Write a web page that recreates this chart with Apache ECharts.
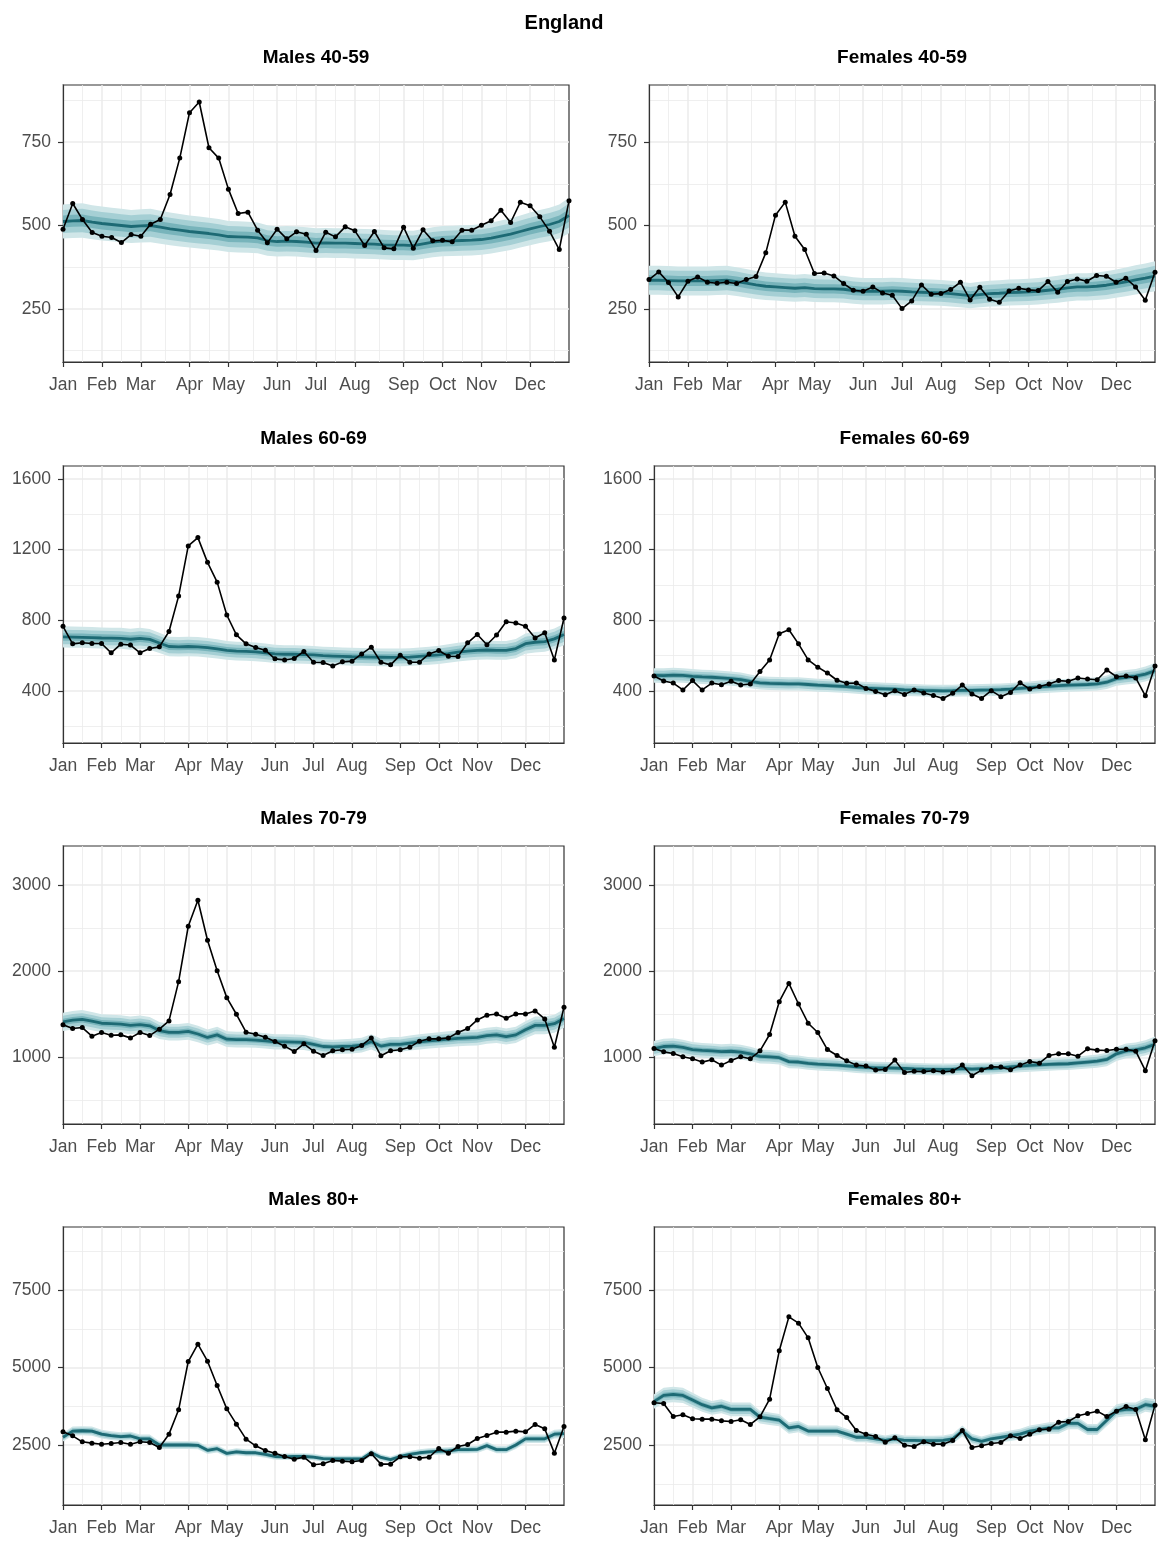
<!DOCTYPE html>
<html><head><meta charset="utf-8">
<script src="https://cdn.jsdelivr.net/npm/echarts@6/dist/echarts.min.js"></script>
<style>html,body{margin:0;padding:0;background:#fff}#c{width:1161px;height:1541px}</style>
</head><body><div id="c"></div>
<script>
const weeks = [1,2,3,4,5,6,7,8,9,10,11,12,13,14,15,16,17,18,19,20,21,22,23,24,25,26,27,28,29,30,31,32,33,34,35,36,37,38,39,40,41,42,43,44,45,46,47,48,49,50,51,52,53];
const monthTickWeeks = [1,5,9,14,18,23,27,31,36,40,44,49];
const monthLabels = ['Jan','Feb','Mar','Apr','May','Jun','Jul','Aug','Sep','Oct','Nov','Dec'];
const minorTickWeeks = [3,7,11.5,16,20.5,25,29,33.5,38,42,46.5,51.5];

const panelTitles = ['Males 40-59','Females 40-59','Males 60-69','Females 60-69','Males 70-79','Females 70-79','Males 80+','Females 80+'];

const obs_M4059 = [489,566,518,479,468,464,449,473,468,504,518,593,702,838,870,733,702,609,536,540,486,448,489,460,481,474,425,480,466,496,484,440,482,433,430,495,432,487,454,456,451,486,486,501,514,546,509,570,559,526,483,428,574];
const med_M4059 = [512,514,515,510,506,503,500,497,499,500,495,490,486,482,479,476,472,467,466,465,463,455,452,453,452,450,447,448,447,447,446,445,444,442,441,441,440,445,450,453,454,455,456,458,462,468,474,482,490,497,503,512,530];
const obs_F4059 = [338,361,329,286,333,346,330,327,330,326,338,347,418,531,570,468,428,356,358,349,326,306,303,316,298,291,251,274,322,294,296,308,330,277,315,279,270,304,312,307,305,332,300,332,340,333,350,348,330,342,316,276,360];
const med_F4059 = [336,336,335,334,334,334,334,335,336,332,327,322,318,316,314,312,314,311,310,310,309,305,303,303,303,304,303,301,300,299,298,296,293,290,293,296,297,299,300,301,303,306,309,313,316,316,318,321,326,331,337,342,348];
const obs_M6069 = [766,667,673,669,669,616,665,660,616,641,650,737,937,1221,1268,1128,1016,830,718,667,646,631,582,576,584,624,563,561,542,565,569,610,648,563,548,603,563,563,610,629,597,595,673,720,662,717,792,785,766,700,730,576,813];
const med_M6069 = [706,705,704,702,700,699,698,693,698,692,672,652,650,652,650,645,638,630,626,624,622,616,610,608,608,606,604,600,598,596,594,593,592,591,590,590,592,596,600,605,612,620,626,630,632,630,630,640,668,676,680,695,720];
const obs_F6069 = [485,457,445,406,459,406,445,436,455,434,440,510,576,724,747,667,576,535,502,461,444,445,415,398,379,402,381,406,389,375,358,387,434,383,358,402,368,392,447,411,426,440,459,455,474,468,464,519,481,485,474,373,542];
const med_F6069 = [488,487,490,488,483,480,478,474,470,465,455,446,443,442,440,441,437,433,431,428,425,420,416,414,412,410,407,405,403,402,401,402,404,404,405,406,408,411,415,419,423,427,430,433,435,437,440,450,470,478,484,496,515];
const obs_M7079 = [1376,1333,1345,1245,1287,1256,1260,1225,1287,1252,1326,1422,1877,2520,2821,2358,2004,1692,1499,1291,1268,1233,1183,1129,1067,1156,1071,1021,1075,1087,1094,1137,1225,1017,1075,1087,1117,1187,1214,1214,1225,1287,1333,1433,1487,1503,1453,1503,1503,1538,1445,1117,1580];
const med_M7079 = [1410,1430,1440,1420,1395,1390,1385,1370,1380,1365,1310,1290,1290,1300,1270,1230,1260,1210,1205,1205,1200,1190,1180,1178,1175,1172,1150,1125,1120,1125,1130,1140,1180,1130,1150,1150,1165,1180,1190,1200,1210,1220,1225,1230,1250,1260,1240,1260,1320,1370,1370,1390,1450];
const obs_F7079 = [1102,1063,1044,1006,983,944,971,909,963,1006,983,1075,1264,1645,1857,1618,1395,1287,1090,1021,959,909,898,851,859,967,823,838,834,844,830,840,909,786,851,890,886,855,909,952,932,1021,1040,1040,1013,1098,1083,1079,1094,1094,1071,844,1191];
const med_F7079 = [1100,1125,1130,1115,1090,1080,1075,1065,1070,1060,1040,1010,1005,995,950,945,930,920,915,910,900,890,882,878,876,874,870,865,862,860,858,860,870,862,868,870,878,888,898,905,912,918,922,925,935,945,955,975,1040,1075,1085,1110,1150];
const obs_M80 = [2925,2796,2603,2560,2527,2549,2581,2527,2603,2581,2420,2850,3635,5193,5752,5204,4420,3667,3172,2689,2474,2323,2237,2130,2044,2108,1861,1893,2001,1979,1958,2001,2216,1883,1883,2119,2119,2076,2108,2388,2237,2452,2517,2710,2807,2915,2915,2947,2925,3162,3022,2237,3097];
const med_M80 = [2750,2950,2960,2950,2850,2800,2770,2790,2700,2700,2500,2500,2500,2500,2490,2330,2380,2230,2280,2250,2250,2200,2130,2120,2130,2130,2110,2060,2050,2050,2050,2050,2250,2100,2030,2130,2200,2250,2280,2300,2310,2350,2350,2360,2480,2350,2350,2500,2700,2700,2700,2850,2870];
const obs_F80 = [3861,3839,3420,3474,3345,3334,3334,3280,3258,3312,3162,3409,3979,5538,6634,6430,5957,5000,4323,3635,3388,2968,2850,2775,2592,2732,2495,2452,2603,2527,2527,2646,2968,2420,2474,2549,2581,2796,2710,2850,2990,3012,3237,3258,3441,3517,3592,3420,3592,3743,3646,2668,3786];
const med_F80 = [3900,4100,4130,4100,3950,3800,3700,3750,3650,3650,3650,3400,3350,3300,3050,3100,2950,2950,2950,2950,2850,2750,2750,2700,2650,2700,2650,2650,2640,2640,2650,2700,2950,2700,2620,2700,2750,2800,2850,2950,3000,3050,3050,3200,3200,3000,3000,3300,3600,3650,3650,3800,3750];

// relative half-widths of the three credible bands (outer, middle, inner)
const bandRel_M4059 = [0.10, 0.068, 0.035];
const bandRel_F4059 = [0.13, 0.09, 0.045];
const bandRel_M6069 = [0.085, 0.058, 0.03];
const bandRel_F6069 = [0.085, 0.058, 0.03];
const bandRel_M7079 = [0.075, 0.05, 0.026];
const bandRel_F7079 = [0.08, 0.055, 0.028];
const bandRel_M80 = [0.05, 0.034, 0.018];
const bandRel_F80 = [0.06, 0.04, 0.021];

const yTicksRow = [[250,500,750],[400,800,1200,1600],[1000,2000,3000],[2500,5000,7500]];
const yMinorRow = [[125,375,625,875],[200,600,1000,1400],[500,1500,2500],[1250,3750,6250,8750]];
const yRangeRow = [[91,921],[106,1673],[226,3451],[565,9532]];

const observed = [obs_M4059,obs_F4059,obs_M6069,obs_F6069,obs_M7079,obs_F7079,obs_M80,obs_F80];
const medians = [med_M4059,med_F4059,med_M6069,med_F6069,med_M7079,med_F7079,med_M80,med_F80];
const bandRels = [bandRel_M4059,bandRel_F4059,bandRel_M6069,bandRel_F6069,bandRel_M7079,bandRel_F7079,bandRel_M80,bandRel_F80];

// layout
const rowTop = [85,466,846,1227];
const rowH = [277,277,278,278];
const colLeft = [[63,649],[63,654],[63,654],[63,654]];
const colW = [[506,506],[501,501],[501,501],[501,501]];

const bandColors = ['#d0e6e8','#a5cfd4','#78b4bb'];
const medColor = '#1d6a74';
const txtColor = '#4d4d4d';
const frameColor = '#333333';
const gridColor = '#ebebeb';
const FONT = 'Liberation Sans, Arial, Helvetica, sans-serif';

const grids = [], xAxes = [], yAxes = [], series = [], graphics = [];

graphics.push({type:'text', x:564, y:23, style:{text:'England', font:'bold 20px ' + FONT, fill:'#000', textAlign:'center', textVerticalAlign:'middle'}});

function makeBandRenderer(color) {
  return function(params, api) {
    if (params.dataIndex !== 0) return null;
    const n = weeks.length;
    const upperPts = [], lowerPts = [];
    for (let i = 0; i < n; i++) {
      upperPts.push(api.coord([api.value(0, i), api.value(2, i)]));
      lowerPts.push(api.coord([api.value(0, i), api.value(1, i)]));
    }
    const pts = upperPts.concat(lowerPts.reverse());
    return {type:'polygon', shape:{points:pts}, style:{fill:color, stroke:null}, silent:true};
  };
}

for (let p = 0; p < 8; p++) {
  const r = Math.floor(p / 2), c = p % 2;
  const left = colLeft[r][c], width = colW[r][c], top = rowTop[r], height = rowH[r];
  grids.push({left:left, top:top, width:width, height:height, show:true, borderColor:frameColor, borderWidth:1.2, backgroundColor:'#fff', containLabel:false});
  graphics.push({type:'text', x:left + width/2, y:top - 27, style:{text:panelTitles[p], font:'bold 19px ' + FONT, fill:'#000', textAlign:'center', textVerticalAlign:'middle'}});

  const xi = xAxes.length, yi = yAxes.length;
  xAxes.push({type:'value', gridIndex:p, min:1, max:53, position:'bottom',
    axisLine:{show:true, onZero:false, lineStyle:{color:frameColor, width:1.2}},
    axisTick:{show:true, length:5, customValues:monthTickWeeks, lineStyle:{color:frameColor, width:1.2}},
    axisLabel:{show:true, customValues:monthTickWeeks, margin:14, color:txtColor, fontSize:17.5, fontFamily:FONT,
      formatter:function(v){ const k = monthTickWeeks.indexOf(v); return k >= 0 ? monthLabels[k] : ''; }},
    splitLine:{show:true, lineStyle:{color:gridColor, width:1.5}}
  });
  xAxes.push({type:'value', gridIndex:p, min:1, max:53, position:'bottom',
    axisLine:{show:false}, axisTick:{show:false, customValues:minorTickWeeks}, axisLabel:{show:false, customValues:minorTickWeeks},
    splitLine:{show:true, lineStyle:{color:gridColor, width:0.8}}
  });
  yAxes.push({type:'value', gridIndex:p, min:yRangeRow[r][0], max:yRangeRow[r][1], position:'left',
    axisLine:{show:true, onZero:false, lineStyle:{color:frameColor, width:1.2}},
    axisTick:{show:true, length:5, customValues:yTicksRow[r], lineStyle:{color:frameColor, width:1.2}},
    axisLabel:{show:true, customValues:yTicksRow[r], margin:12, color:txtColor, fontSize:17.5, fontFamily:FONT,
      formatter:function(v){ return String(v); }},
    splitLine:{show:true, lineStyle:{color:gridColor, width:1.5}}
  });
  yAxes.push({type:'value', gridIndex:p, min:yRangeRow[r][0], max:yRangeRow[r][1], position:'left',
    axisLine:{show:false}, axisTick:{show:false, customValues:yMinorRow[r]}, axisLabel:{show:false, customValues:yMinorRow[r]},
    splitLine:{show:true, lineStyle:{color:gridColor, width:0.8}}
  });

  const med = medians[p];
  bandRels[p].forEach(function(rel, k){
    series.push({type:'custom', xAxisIndex:xi, yAxisIndex:yi, z:1+k, silent:true, clip:true,
      renderItem: makeBandRenderer(bandColors[k]),
      encode:{x:0, y:[1,2]},
      data: weeks.map(function(w,i){ return [w, med[i]*(1-rel), med[i]*(1+rel)]; })});
  });
  series.push({type:'line', xAxisIndex:xi, yAxisIndex:yi, symbol:'none', z:5,
    lineStyle:{color:medColor, width:2.8}, data: weeks.map(function(w,i){ return [w, med[i]]; })});
  series.push({type:'line', xAxisIndex:xi, yAxisIndex:yi, symbol:'circle', symbolSize:5, z:6,
    itemStyle:{color:'#000'}, lineStyle:{color:'#000', width:1.6},
    data: weeks.map(function(w,i){ return [w, observed[p][i]]; })});
}

const chart = echarts.init(document.getElementById('c'), null, {renderer:'canvas'});
chart.setOption({animation:false, backgroundColor:'#fff', grid:grids, xAxis:xAxes, yAxis:yAxes, series:series, graphic:graphics});
</script></body></html>
